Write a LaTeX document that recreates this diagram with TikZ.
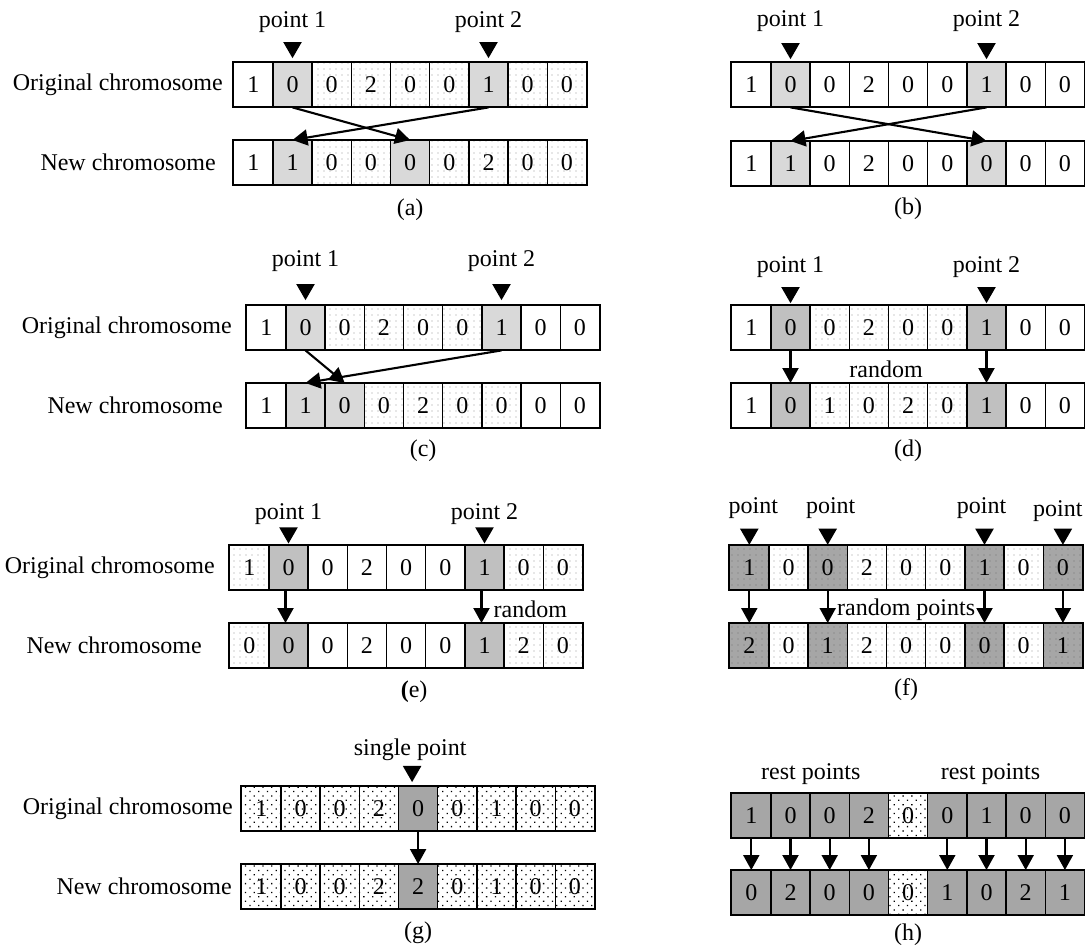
\documentclass[tikz,border=0pt]{standalone}
\usepackage{fontspec}
\setmainfont{Liberation Serif}
\usetikzlibrary{arrows.meta,shapes.geometric,patterns.meta,calc,positioning}
\definecolor{gA}{HTML}{D9D9D9}
\definecolor{gB}{HTML}{C0C0C0}
\definecolor{gC}{HTML}{A6A6A6}
\def\cw{39.2}
\newcommand\chrow[4]{%
  \foreach \cellv/\cellsty [count=\ci] in {#4}{%
    \node[cell,\cellsty] (#1-\ci) at ({#2+(\ci-1)*\cw},#3) {\cellv};
  }%
  \draw[frame] (#1-1.north west) rectangle (#1-9.south east);
}
\tikzset{
  txt/.style={font=\fontsize{24}{28}\selectfont, inner sep=0pt},
  cell/.style={txt, draw=black, line width=1.4pt, minimum width=\cw pt, minimum height=44pt, anchor=north west},
  frame/.style={draw=black, line width=1.9pt},
  cW/.style={fill=white},
  cL/.style={fill=gA},
  cM/.style={fill=gB},
  cD/.style={fill=gC},
  cP/.style={preaction={fill=white}, pattern={Dots[distance=6pt,radius=0.6pt]}, pattern color=black!40},
  cDP/.style={preaction={fill=gC}, pattern={Dots[distance=6pt,radius=0.6pt]}, pattern color=black!55},
  cG/.style={preaction={fill=white}, pattern={Dots[distance=6.2pt,angle=45,radius=0.9pt]}, pattern color=black},
  tri/.style={regular polygon, regular polygon sides=3, shape border rotate=180, fill=black, inner sep=0pt, minimum size=21.5pt},
  arr/.style={line width=2.1pt, -{Triangle[width=16pt,length=15pt]}},
}
\begin{document}
\begin{tikzpicture}[x=1pt,y=-1pt]
\useasboundingbox (0,0) rectangle (1085,945);
% ---------- (a)
\chrow{a1}{233}{62}{1/cW,0/cL,0/cP,2/cP,0/cP,0/cP,1/cL,0/cP,0/cP}
\chrow{a2}{233}{140}{1/cW,1/cL,0/cP,0/cP,0/cL,0/cP,2/cP,0/cP,0/cP}
\node[txt, left=10pt of a1-1] (aor) {Original chromosome};
\node[txt, left=17pt of a2-1] (anw) {New chromosome};
\node[tri] (ta1) at ([yshift=14.6pt]a1-2.north) {};
\node[tri] (ta2) at ([yshift=14.6pt]a1-7.north) {};
\node[txt] (pa1) at ($(ta1)+(0,-25)$) {point 1};
\node[txt] (pa2) at ($(ta2)+(0,-25)$) {point 2};
\draw[arr] (a1-2.south) -- (a2-5.north);
\draw[arr] (a1-7.south) -- (a2-2.north);
\node[txt] (la) at ($(a2-5.south)+(0,24)$) {(a)};
% ---------- (b)
\chrow{b1}{731}{62}{1/cW,0/cL,0/cW,2/cW,0/cW,0/cW,1/cL,0/cW,0/cW}
\chrow{b2}{731}{141}{1/cW,1/cL,0/cW,2/cW,0/cW,0/cW,0/cL,0/cW,0/cW}
\node[tri] (tb1) at ([yshift=13.6pt]b1-2.north) {};
\node[tri] (tb2) at ([yshift=13.6pt]b1-7.north) {};
\node[txt] (pb1) at ($(tb1)+(0,-27.6)$) {point 1};
\node[txt] (pb2) at ($(tb2)+(0,-27.6)$) {point 2};
\draw[arr] (b1-2.south) -- (b2-7.north);
\draw[arr] (b1-7.south) -- (b2-2.north);
\node[txt] (lb) at ($(b2-5.south)+(0,22)$) {(b)};
% ---------- (c)
\chrow{c1}{246}{305}{1/cW,0/cL,0/cP,2/cP,0/cP,0/cP,1/cL,0/cW,0/cW}
\chrow{c2}{246}{383}{1/cW,1/cL,0/cL,0/cP,2/cP,0/cP,0/cP,0/cW,0/cW}
\node[txt, left=14pt of c1-1] (cor) {Original chromosome};
\node[txt, left=23pt of c2-1] (cnw) {New chromosome};
\node[tri] (tc1) at ([yshift=15.6pt]c1-2.north) {};
\node[tri] (tc2) at ([yshift=15.6pt]c1-7.north) {};
\node[txt] (pc1) at ($(tc1)+(0,-28)$) {point 1};
\node[txt] (pc2) at ($(tc2)+(0,-28)$) {point 2};
\draw[arr] (c1-2.south) -- (c2-3.north);
\draw[arr] (c1-7.south) -- (c2-2.north);
\node[txt] (lc) at ($(c2-5.south)+(0,22)$) {(c)};
% ---------- (d)
\chrow{d1}{731}{305}{1/cW,0/cM,0/cP,2/cP,0/cP,0/cP,1/cM,0/cW,0/cW}
\chrow{d2}{731}{383}{1/cW,0/cM,1/cP,0/cP,2/cP,0/cP,1/cM,0/cW,0/cW}
\node[tri] (td1) at ([yshift=12.6pt]d1-2.north) {};
\node[tri] (td2) at ([yshift=12.6pt]d1-7.north) {};
\node[txt] (pd1) at ($(td1)+(0,-25)$) {point 1};
\node[txt] (pd2) at ($(td2)+(0,-25)$) {point 2};
\draw[arr] (d1-2.south) -- (d2-2.north);
\draw[arr] (d1-7.south) -- (d2-7.north);
\node[txt] (rd) at ($(d1-5.south)!0.5!(d2-5.north)+(-22,3)$) {random};
\node[txt] (ld) at ($(d2-5.south)+(0,22)$) {(d)};
% ---------- (e)
\chrow{e1}{229}{545}{1/cP,0/cM,0/cW,2/cW,0/cW,0/cW,1/cM,0/cP,0/cP}
\chrow{e2}{229}{623}{0/cP,0/cM,0/cW,2/cW,0/cW,0/cW,1/cM,2/cP,0/cP}
\node[txt, left=14pt of e1-1] (eor) {Original chromosome};
\node[txt, left=27pt of e2-1] (enw) {New chromosome};
\node[tri] (te1) at ([yshift=12.3pt]e1-2.north) {};
\node[tri] (te2) at ([yshift=12.3pt]e1-7.north) {};
\node[txt] (pe1) at ($(te1)+(0,-19)$) {point 1};
\node[txt] (pe2) at ($(te2)+(0,-19)$) {point 2};
\draw[arr] ([xshift=-3pt]e1-2.south) -- ([xshift=-3pt]e2-2.north);
\draw[arr] ([xshift=-3pt]e1-7.south) -- ([xshift=-3pt]e2-7.north);
\node[txt, anchor=west] (re) at ($(e1-7.south)!0.5!(e2-7.north)+(9,3)$) {random};
\node[txt] (le) at ($(e2-5.south)+(8,23)$) {\textbf{(}e)};
% ---------- (f)
\chrow{f1}{729}{545}{1/cDP,0/cP,0/cDP,2/cP,0/cP,0/cP,1/cDP,0/cP,0/cDP}
\chrow{f2}{729}{623}{2/cDP,0/cP,1/cDP,2/cP,0/cP,0/cP,0/cDP,0/cP,1/cDP}
\node[tri] (tf1) at ([yshift=11pt]f1-1.north) {};
\node[tri] (tf2) at ([yshift=11pt]f1-3.north) {};
\node[tri] (tf3) at ([yshift=11pt]f1-7.north) {};
\node[tri] (tf4) at ([yshift=11pt]f1-9.north) {};
\node[txt] (pf1) at ($(tf1)+(4,-26)$) {point};
\node[txt] (pf2) at ($(tf2)+(3,-26)$) {point};
\node[txt] (pf3) at ($(tf3)+(-3,-26)$) {point};
\node[txt] (pf4) at ($(tf4)+(-5,-23)$) {point};
\draw[arr] (f1-1.south) -- (f2-1.north);
\draw[arr] (f1-3.south) -- (f2-3.north);
\draw[arr] (f1-7.south) -- (f2-7.north);
\draw[arr] (f1-9.south) -- (f2-9.north);
\node[txt] (rf) at ($(f1-5.south)!0.5!(f2-5.north)+(0,3)$) {random points};
\node[txt] (lf) at ($(f2-5.south)+(0,21)$) {(f)};
% ---------- (g)
\chrow{g1}{241}{786}{1/cG,0/cG,0/cG,2/cG,0/cD,0/cG,1/cG,0/cG,0/cG}
\chrow{g2}{241}{864}{1/cG,0/cG,0/cG,2/cG,2/cD,0/cG,1/cG,0/cG,0/cG}
\node[txt, left=8pt of g1-1] (gor) {Original chromosome};
\node[txt, left=9pt of g2-1] (gnw) {New chromosome};
\node[tri] (tg1) at ([xshift=-6pt,yshift=14.7pt]g1-5.north) {};
\node[txt] (pg1) at ($(tg1)+(-2,-22)$) {single point};
\draw[arr] (g1-5.south) -- (g2-5.north);
\node[txt] (lg) at ($(g2-5.south)+(0,23)$) {(g)};
% ---------- (h)
\chrow{h1}{731}{793}{1/cD,0/cD,0/cD,2/cD,0/cG,0/cD,1/cD,0/cD,0/cD}
\chrow{h2}{731}{870}{0/cD,2/cD,0/cD,0/cD,0/cG,1/cD,0/cD,2/cD,1/cD}
\node[txt] (rh1) at ($(h1-2.north east)+(0,-19)$) {rest points};
\node[txt] (rh2) at ($(h1-7.north)+(4,-19)$) {rest points};
\foreach \k in {1,2,3,4,6,7,8,9}{\draw[arr] (h1-\k.south) -- (h2-\k.north);}
\node[txt] (lh) at ($(h2-5.south)+(0,19)$) {(h)};
\end{tikzpicture}
\end{document}
